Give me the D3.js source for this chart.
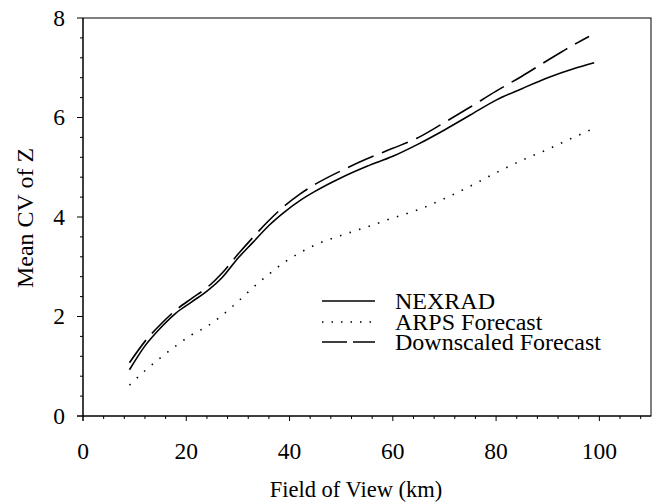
<!DOCTYPE html>
<html><head><meta charset="utf-8">
<script src="https://cdn.jsdelivr.net/npm/d3@7/dist/d3.min.js"></script>
<style>body{margin:0;background:#fff}svg{display:block}text{font-family:"Liberation Serif","Times New Roman",serif;fill:#000}</style>
</head><body><svg id="c" width="655" height="503"></svg>
<script>
const xs =      [9, 12, 15, 18, 21, 24, 27, 30, 33, 36, 39, 42, 45, 50, 55, 60, 65, 70, 75, 80, 85, 90, 95, 99];
const nexrad =  [0.93,1.41,1.77,2.07,2.29,2.51,2.79,3.17,3.5,3.83,4.1,4.33,4.52,4.79,5.02,5.22,5.47,5.75,6.05,6.35,6.58,6.8,6.98,7.1];
const xsArps =  [9, 12, 15, 18, 21, 24, 27, 30, 33, 36, 39, 42, 45, 50, 55, 60, 65, 70, 75, 80, 85, 90, 95, 98.5];
const arps =    [0.62,0.91,1.17,1.41,1.63,1.8,2.03,2.3,2.59,2.85,3.09,3.28,3.44,3.63,3.8,3.98,4.15,4.37,4.62,4.89,5.14,5.36,5.6,5.76];
const xsDown =  [9, 12, 15, 18, 21, 24, 27, 30, 33, 36, 39, 42, 45, 50, 55, 60, 65, 70, 75, 80, 85, 90, 95, 98];
const down =    [1.07,1.5,1.84,2.13,2.36,2.58,2.88,3.25,3.6,3.93,4.22,4.46,4.66,4.93,5.17,5.38,5.6,5.9,6.21,6.53,6.83,7.15,7.46,7.63];
const seriesNames = ["NEXRAD","ARPS Forecast","Downscaled Forecast"];
const xTicks = [0,20,40,60,80,100];
const yTicks = [0,2,4,6,8];

const svg = d3.select("#c");
const x = d3.scaleLinear().domain([0,110]).range([83,651]);
const y = d3.scaleLinear().domain([0,8]).range([416,18]);

// frame
svg.append("rect").attr("x",83).attr("y",18).attr("width",651-83).attr("height",416-18)
  .attr("fill","none").attr("stroke","#000").attr("stroke-width",1);

// x axis ticks
const xMinor = d3.range(0,111,4).filter(v=>v%20!==0);
const gx = svg.append("g");
gx.selectAll("line.mn").data(xMinor).join("line").attr("x1",d=>x(d)).attr("x2",d=>x(d)).attr("y1",416).attr("y2",419).attr("stroke","#000");
gx.selectAll("line.mj").data(xTicks).join("line").attr("x1",d=>x(d)).attr("x2",d=>x(d)).attr("y1",416).attr("y2",421).attr("stroke","#000");
gx.append("line").attr("x1",77).attr("x2",651).attr("y1",416).attr("y2",416).attr("stroke","#000");
gx.selectAll("text").data(xTicks).join("text").attr("x",d=>x(d)).attr("y",459).attr("text-anchor","middle").attr("font-size",23.5).text(d=>d);

// y axis ticks
const yMinor = d3.range(0,8.01,0.4).filter(v=>Math.abs(v/2-Math.round(v/2))>0.01);
const gy = svg.append("g");
gy.selectAll("line.mn").data(yMinor).join("line").attr("x1",80).attr("x2",83).attr("y1",d=>y(d)).attr("y2",d=>y(d)).attr("stroke","#000");
gy.selectAll("line.mj").data(yTicks).join("line").attr("x1",77).attr("x2",83).attr("y1",d=>y(d)).attr("y2",d=>y(d)).attr("stroke","#000");
gy.append("line").attr("x1",83).attr("x2",83).attr("y1",18).attr("y2",421).attr("stroke","#000");
gy.selectAll("text").data(yTicks).join("text").attr("x",65).attr("y",d=>y(d)).attr("dy","0.33em").attr("text-anchor","end").attr("font-size",23.5).text(d=>d);

// titles
svg.append("text").attr("x",356).attr("y",497).attr("text-anchor","middle").attr("font-size",22.5).text("Field of View (km)");
svg.append("text").attr("transform","translate(33,218) rotate(-90)").attr("text-anchor","middle").attr("font-size",24).text("Mean CV of Z");

// lines
const line = d3.line().x(d=>x(d[0])).y(d=>y(d[1])).curve(d3.curveMonotoneX);
const styles = [null,"1.5,8.5","28,9"];
const data = [d3.zip(xs,nexrad), d3.zip(xsArps,arps), d3.zip(xsDown,down)];
data.forEach((d,i)=>{
  svg.append("path").attr("d",line(d)).attr("fill","none").attr("stroke","#000").attr("stroke-width",1.6)
    .attr("stroke-dasharray",styles[i]);
});

// legend
const legY = [301,322,342];
const legDash = [null,"1.5,8","25,6"];
seriesNames.forEach((n,i)=>{
  svg.append("line").attr("x1",322).attr("x2",375).attr("y1",legY[i]).attr("y2",legY[i]).attr("stroke","#000").attr("stroke-width",1.6).attr("stroke-dasharray",legDash[i]);
  svg.append("text").attr("x",395).attr("y",legY[i]).attr("dy","0.33em").attr("font-size",24).text(n);
});
</script></body></html>
